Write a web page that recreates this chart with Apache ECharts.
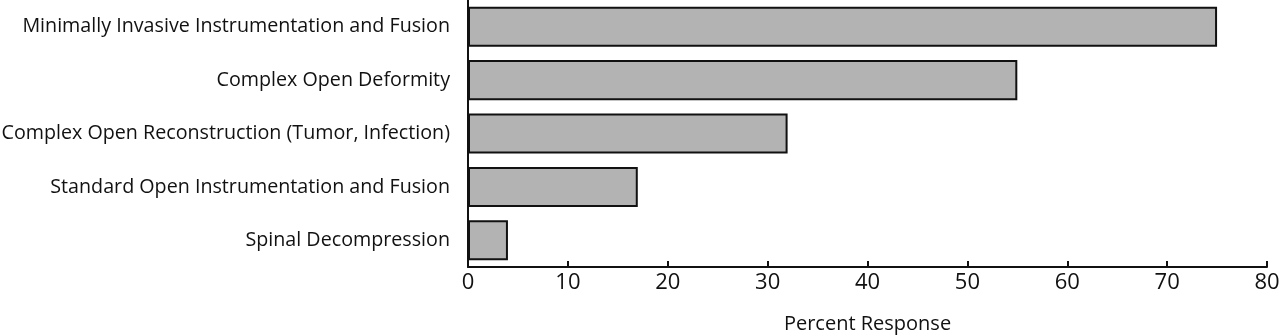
<!DOCTYPE html>
<html>
<head>
<meta charset="utf-8">
<script src="https://cdn.jsdelivr.net/npm/echarts@6/dist/echarts.min.js"></script>
<style>
html,body{margin:0;padding:0;background:#fff;}
#chart{width:1280px;height:335px;}
</style>
</head>
<body>
<div id="chart"></div>
<script>
const categories = [
  "Minimally Invasive Instrumentation and Fusion",
  "Complex Open Deformity",
  "Complex Open Reconstruction (Tumor, Infection)",
  "Standard Open Instrumentation and Fusion",
  "Spinal Decompression"
];
const percentResponse = [75, 55, 32, 17, 4];
const xTicks = { min: 0, max: 80, interval: 10 };
const axisName = "Percent Response";

const FONT = "Open Sans";
const chart = echarts.init(document.getElementById('chart'));
chart.setOption({
  animation: false,
  backgroundColor: '#fff',
  grid: { left: 468, right: 13, top: 0, bottom: 68, containLabel: false, outerBoundsMode: 'none' },
  xAxis: {
    type: 'value',
    min: xTicks.min, max: xTicks.max, interval: xTicks.interval,
    name: axisName,
    nameLocation: 'middle',
    nameGap: 47,
    nameTextStyle: { fontFamily: FONT, fontSize: 20, color: '#111' },
    axisLine: { show: true, lineStyle: { color: '#111', width: 2 } },
    axisTick: { show: true, inside: true, length: 6, lineStyle: { color: '#111', width: 2 } },
    axisLabel: { fontFamily: FONT, fontSize: 22, color: '#111', margin: 5 },
    splitLine: { show: false }
  },
  yAxis: {
    type: 'category',
    data: categories,
    inverse: true,
    axisLine: { show: true, lineStyle: { color: '#111', width: 2 } },
    axisTick: { show: false },
    axisLabel: { fontFamily: FONT, fontSize: 19.7, color: '#111', margin: 18 },
    splitLine: { show: false }
  },
  series: [{
    type: 'bar',
    data: percentResponse,
    barCategoryGap: '25%',
    itemStyle: { color: '#b3b3b3', borderColor: '#111', borderWidth: 2 }
  }]
});
</script>
</body>
</html>
